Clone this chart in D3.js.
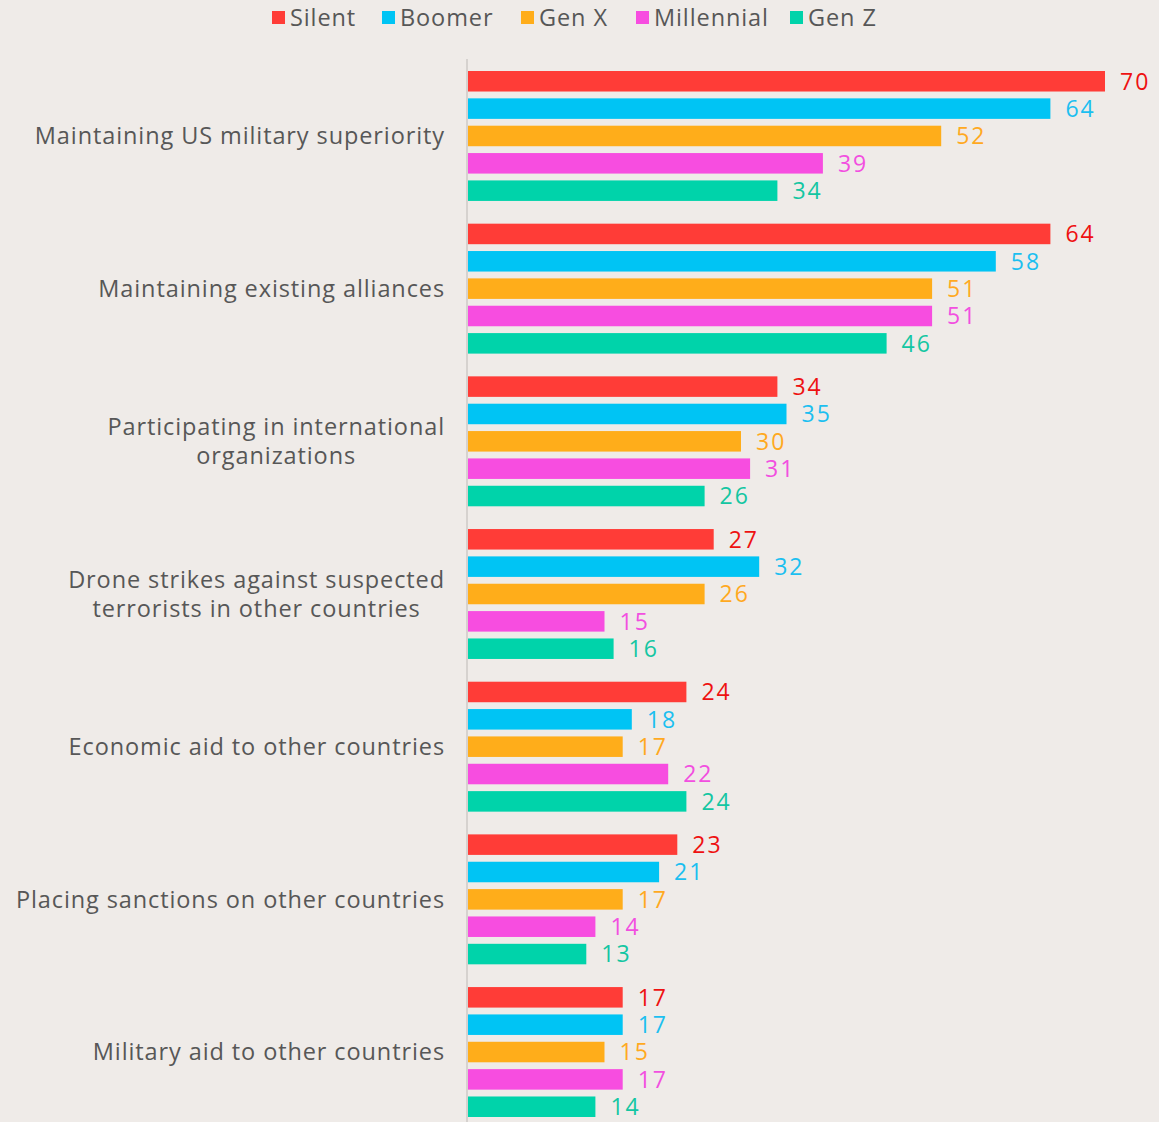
<!DOCTYPE html>
<html>
<head>
<meta charset="utf-8">
<script src="https://cdn.jsdelivr.net/npm/d3@7"></script>
<style>
  html, body { margin: 0; padding: 0; background: #efebe8; }
  svg { display: block; font-family: "Open Sans", "Noto Sans", sans-serif; }
</style>
</head>
<body>
<svg id="chart" width="1159" height="1122"></svg>
<script>
// Share of each generation naming the policy as effective (%)
const categories = [
  ["Maintaining US military superiority"],
  ["Maintaining existing alliances"],
  ["Participating in international", "organizations"],
  ["Drone strikes against suspected", "terrorists in other countries"],
  ["Economic aid to other countries"],
  ["Placing sanctions on other countries"],
  ["Military aid to other countries"]
];
const seriesNames = ["Silent", "Boomer", "Gen X", "Millennial", "Gen Z"];
const silent     = [70, 64, 34, 27, 24, 23, 17];
const boomer     = [64, 58, 35, 32, 18, 21, 17];
const genX       = [52, 51, 30, 26, 17, 17, 15];
const millennial = [39, 51, 31, 15, 22, 14, 17];
const genZ       = [34, 46, 26, 16, 24, 13, 14];

const barColors   = ["#ff3c37", "#00c4f4", "#ffad1a", "#f74de0", "#00d3aa"];
const labelColors = ["#ee1111", "#1cbff0", "#ffa91f", "#f24fe0", "#14c6a2"];

const seriesValues = [silent, boomer, genX, millennial, genZ];
const catKeys = categories.map(c => c.join(" "));

const textFill = "#575757";
const fontSize = 23.5;
const spacing = "0.9px";

const svg = d3.select("#chart");

const x = d3.scaleLinear().domain([0, 70]).range([468, 1105]);
const y0 = d3.scaleBand().domain(catKeys).range([71, 1117]).paddingInner(0.149).paddingOuter(0);
const y1 = d3.scaleBand().domain(seriesNames).range([0, y0.bandwidth()]).paddingInner(0.25).paddingOuter(0);

// Vertical baseline
svg.append("line")
  .attr("x1", 467).attr("x2", 467)
  .attr("y1", 59).attr("y2", 1122)
  .attr("stroke", "#d6d2cf").attr("stroke-width", 2);

const groups = svg.selectAll("g.cat")
  .data(catKeys)
  .join("g")
  .attr("class", "cat")
  .attr("transform", k => `translate(0,${y0(k)})`);

groups.each(function(k, i) {
  const g = d3.select(this);
  const rows = seriesNames.map((s, j) => ({ s, j, v: seriesValues[j][i] }));
  g.selectAll("rect")
    .data(rows)
    .join("rect")
    .attr("x", x(0))
    .attr("y", d => y1(d.s))
    .attr("width", d => x(d.v) - x(0))
    .attr("height", y1.bandwidth())
    .attr("fill", d => barColors[d.j]);
  g.selectAll("text.val")
    .data(rows)
    .join("text")
    .attr("class", "val")
    .attr("x", d => x(d.v) + 15)
    .attr("y", d => y1(d.s) + y1.bandwidth() / 2)
    .attr("dy", "0.36em")
    .attr("font-size", 23)
    .attr("letter-spacing", "2px")
    .attr("fill", d => labelColors[d.j])
    .text(d => d.v);

  const lines = categories[i];
  const cy = y0.bandwidth() / 2;
  const lh = 29;
  g.append("text")
    .attr("class", "cat-label")
    .attr("text-anchor", "middle")
    .attr("font-size", fontSize)
    .attr("letter-spacing", spacing)
    .attr("fill", textFill)
    .selectAll("tspan")
    .data(lines)
    .join("tspan")
    .attr("x", 445)
    .attr("y", (d, n) => cy + (n - (lines.length - 1) / 2) * lh)
    .attr("dy", "0.36em")
    .text(d => d);
});

// Labels end at the baseline gap; extra lines centre under the longest one
svg.selectAll("text.cat-label").each(function() {
  const spans = d3.select(this).selectAll("tspan").nodes();
  const maxW = d3.max(spans.map(s => s.getComputedTextLength()));
  spans.forEach(s => d3.select(s).attr("x", 445 - maxW / 2));
});

// Legend
const legendX = [272, 382, 521, 636, 790];
const legend = svg.append("g");
seriesNames.forEach((s, j) => {
  legend.append("rect")
    .attr("x", legendX[j]).attr("y", 11)
    .attr("width", 13).attr("height", 13)
    .attr("fill", barColors[j]);
  legend.append("text")
    .attr("x", legendX[j] + 18).attr("y", 18)
    .attr("dy", "0.36em")
    .attr("font-size", fontSize)
    .attr("letter-spacing", spacing)
    .attr("fill", textFill)
    .text(s);
});
</script>
</body>
</html>
